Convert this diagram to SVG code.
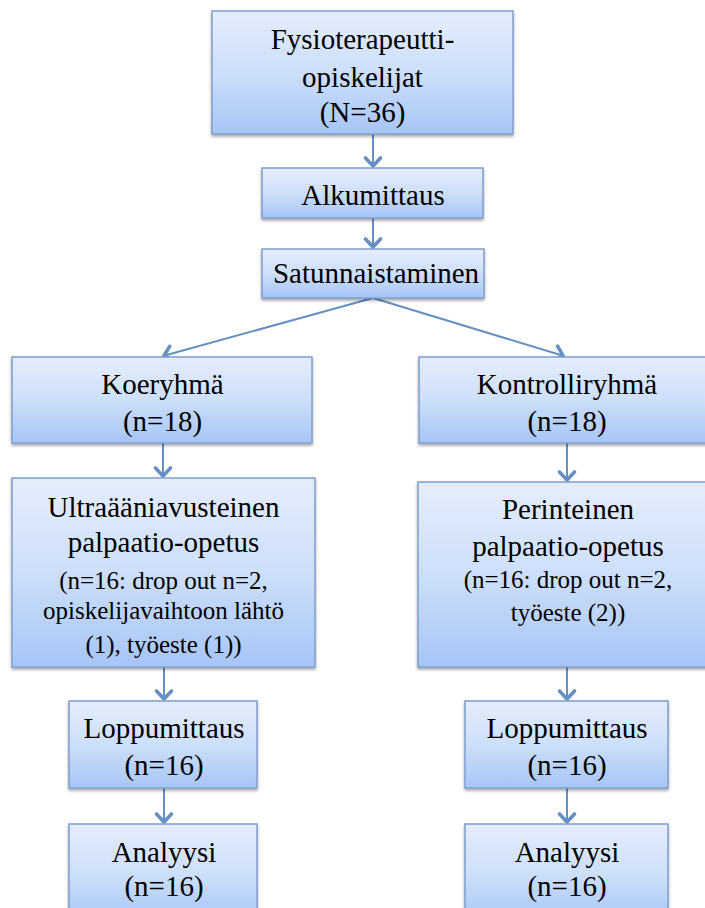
<svg xmlns="http://www.w3.org/2000/svg" width="705" height="908" viewBox="0 0 705 908">
<defs>
<linearGradient id="g" x1="0" y1="0" x2="0" y2="1">
<stop offset="0" stop-color="#e5edfb"/>
<stop offset="0.5" stop-color="#cddffa"/>
<stop offset="1" stop-color="#a6c5f6"/>
</linearGradient>
<filter id="sh" x="-5%" y="-5%" width="110%" height="115%">
<feDropShadow dx="0" dy="2" stdDeviation="1.5" flood-color="#000" flood-opacity="0.35"/>
</filter>
<marker id="ah" markerUnits="userSpaceOnUse" viewBox="0 0 12 20" markerWidth="12" markerHeight="20" refX="11" refY="10" orient="auto">
<path d="M2,2.5 L10,10 L2,17.5" fill="none" stroke="#6690c3" stroke-width="3.6" stroke-linecap="round" stroke-linejoin="round"/>
</marker>
</defs>
<style>
.box{fill:url(#g);stroke:#7f9fcc;stroke-width:1.5;filter:url(#sh)}
.t{font-family:"Liberation Serif","Times New Roman",serif;fill:#000;text-anchor:middle}
.l{font-size:29px}
.s{font-size:25px}
.c{fill:none;stroke:#6690c3;stroke-width:2;marker-end:url(#ah)}
</style>
<g id="connectors">
<line class="c" x1="373" y1="134" x2="373" y2="167"/>
<line class="c" x1="373" y1="218" x2="373" y2="248"/>
<line class="c" x1="373" y1="298" x2="163" y2="356"/>
<line class="c" x1="373" y1="298" x2="564" y2="356"/>
<line class="c" x1="163" y1="443" x2="163" y2="477"/>
<line class="c" x1="567" y1="443" x2="567" y2="481"/>
<line class="c" x1="164" y1="667" x2="164" y2="700"/>
<line class="c" x1="567" y1="667" x2="567" y2="700"/>
<line class="c" x1="164" y1="788" x2="164" y2="823"/>
<line class="c" x1="567" y1="788" x2="567" y2="823"/>
</g>
<g id="n1">
<rect class="box" x="212" y="11" width="301" height="123"/>
<text class="t l" x="362.5" y="49">Fysioterapeutti-</text>
<text class="t l" x="362.5" y="87">opiskelijat</text>
<text class="t l" x="362.5" y="122">(N=36)</text>
</g>
<g id="n2">
<rect class="box" x="262" y="168" width="221" height="50"/>
<text class="t l" x="373" y="205">Alkumittaus</text>
</g>
<g id="n3">
<rect class="box" x="262" y="249" width="222" height="49"/>
<text class="t l" x="376" y="283">Satunnaistaminen</text>
</g>
<g id="n4">
<rect class="box" x="12" y="357" width="300" height="86"/>
<text class="t l" x="162.5" y="394">Koeryhmä</text>
<text class="t l" x="162.5" y="431">(n=18)</text>
</g>
<g id="n5">
<rect class="box" x="419" y="357" width="296" height="86"/>
<text class="t l" x="567" y="394">Kontrolliryhmä</text>
<text class="t l" x="567" y="431">(n=18)</text>
</g>
<g id="n6">
<rect class="box" x="12" y="478" width="303" height="189"/>
<text class="t l" x="163.5" y="517">Ultraääniavusteinen</text>
<text class="t l" x="163.5" y="552">palpaatio-opetus</text>
<text class="t s" x="163.5" y="589">(n=16: drop out n=2,</text>
<text class="t s" x="163.5" y="619">opiskelijavaihtoon lähtö</text>
<text class="t s" x="163.5" y="653">(1), työeste (1))</text>
</g>
<g id="n7">
<rect class="box" x="418" y="482" width="298" height="185"/>
<text class="t l" x="568" y="519">Perinteinen</text>
<text class="t l" x="568" y="556">palpaatio-opetus</text>
<text class="t s" x="568" y="588">(n=16: drop out n=2,</text>
<text class="t s" x="568" y="621">työeste (2))</text>
</g>
<g id="n8">
<rect class="box" x="69" y="701" width="188" height="87"/>
<text class="t l" x="164" y="738">Loppumittaus</text>
<text class="t l" x="164" y="775">(n=16)</text>
</g>
<g id="n9">
<rect class="box" x="465" y="701" width="203" height="87"/>
<text class="t l" x="567" y="738">Loppumittaus</text>
<text class="t l" x="567" y="775">(n=16)</text>
</g>
<g id="n10">
<rect class="box" x="69" y="824" width="188" height="100"/>
<text class="t l" x="164" y="862">Analyysi</text>
<text class="t l" x="164" y="896">(n=16)</text>
</g>
<g id="n11">
<rect class="box" x="465" y="824" width="203" height="100"/>
<text class="t l" x="567" y="862">Analyysi</text>
<text class="t l" x="567" y="896">(n=16)</text>
</g>
</svg>
